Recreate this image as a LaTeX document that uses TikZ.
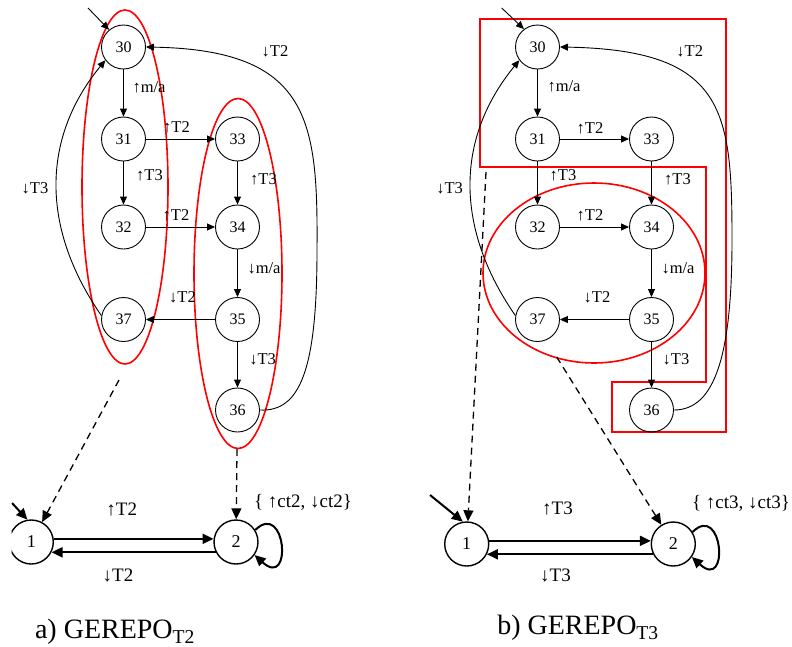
\documentclass[tikz,border=0pt]{standalone}
\usepackage{fontspec}
\setmainfont{Liberation Serif}
\usetikzlibrary{arrows.meta}
\begin{document}
\begin{tikzpicture}[x=1pt,y=-1pt,
  st/.style={circle,draw,line width=0.9pt,minimum size=44pt,inner sep=0pt,font=\fontsize{16}{18}\selectfont},
  bst/.style={circle,draw,line width=1.4pt,minimum size=44pt,inner sep=0pt,font=\fontsize{18}{20}\selectfont},
  tr/.style={line width=0.9pt,-{Triangle[length=8pt,width=7pt]}},
  btr/.style={line width=2pt,-{Triangle[length=11pt,width=10pt]}},
  dtr/.style={line width=1.3pt,dash pattern=on 7pt off 5pt,-{Triangle[length=11pt,width=10pt]}},
  lab/.style={font=\fontsize{16.5}{18}\selectfont,inner sep=0pt},
  blab/.style={font=\fontsize{19}{21}\selectfont,inner sep=0pt},
  grp/.style={draw=red,line width=1.6pt},
  capt/.style={font=\fontsize{28}{30}\selectfont,inner sep=0pt}]
\useasboundingbox (0,0) rectangle (792,646);
\clip (11.5,0) rectangle (792,646);

% ---------- left diagram ----------
\draw[grp] (125,187) ellipse [x radius=43pt, y radius=177pt];
\draw[grp] (238,273.5) ellipse [x radius=44pt, y radius=175pt];

\node[st] (l30) at (123.5,47) {30};
\node[st] (l31) at (123.5,139) {31};
\node[st] (l33) at (237.5,139) {33};
\node[st] (l32) at (123.5,227) {32};
\node[st] (l34) at (237.5,227) {34};
\node[st] (l37) at (123.5,319.5) {37};
\node[st] (l35) at (237.5,319.5) {35};
\node[st] (l36) at (237.5,410) {36};

\coordinate (il30) at (88,8);
\draw[tr] (il30) -- (l30.130);
\draw[tr] (l30) -- (l31);
\draw[tr] (l31) -- (l33);
\draw[tr] (l31) -- (l32);
\draw[tr] (l33) -- (l34);
\draw[tr] (l32) -- (l34);
\draw[tr] (l34) -- (l35);
\draw[tr] (l35) -- (l37);
\draw[tr] (l35) -- (l36);
\draw[tr] (l37.170) .. controls (42,230) and (40,140) .. (l30.216);
\draw[tr] (l36.east) .. controls (300,412) and (317,370) .. (317,250) .. controls (318,120) and (310,50) .. (l30.east);

\node[lab] (la1) at (149,87) {↑m/a};
\node[lab] (la2) at (176.5,127.5) {↑T2};
\node[lab] (la3) at (149.5,175) {↑T3};
\node[lab] (la4) at (263.5,179) {↑T3};
\node[lab] (la5) at (176,215.5) {↑T2};
\node[lab] (la6) at (275,51.5) {↓T2};
\node[lab] (la7) at (35,188) {↓T3};
\node[lab] (la8) at (264,268) {↓m/a};
\node[lab] (la9) at (182.5,297.5) {↓T2};
\node[lab] (la10) at (262.7,359.7) {↓T3};

\node[bst] (lb1) at (31.3,542) {1};
\node[bst] (lb2) at (236,542) {2};
\coordinate (ilb1) at (12,503);
\draw[btr] (ilb1) -- (lb1.100);
\draw[btr] (lb1.8) -- (lb2.172);
\draw[btr] (lb2.207) -- (lb1.-27);
\draw[btr] (lb2.32) .. controls (286,500) and (293,590) .. (lb2.-35);
\coordinate (dl1) at (119,380);
\coordinate (dl2) at (237,449);
\draw[dtr] (dl1) -- (lb1);
\draw[dtr] (dl2) -- (lb2);
\node[blab] (lb3) at (121.7,509.5) {↑T2};
\node[blab] (lb4) at (118,575.7) {↓T2};
\node[blab] (lb5) at (303,502.5) {\{ ↑ct2, ↓ct2\}};
\node[capt] (capa) at (115,632) {a) GEREPO\textsubscript{T2}};

% ---------- right diagram ----------
\draw[grp] (480,19) -- (726,19) -- (726,432) -- (612,432) -- (612,382) -- (706,382) -- (706,167) -- (480,167) -- cycle;
\draw[grp] (594,273) ellipse [x radius=111pt, y radius=90pt];

\node[st] (r30) at (537.5,47) {30};
\node[st] (r31) at (537.5,139) {31};
\node[st] (r33) at (651.5,139) {33};
\node[st] (r32) at (537.5,227) {32};
\node[st] (r34) at (651.5,227) {34};
\node[st] (r37) at (537.5,319.5) {37};
\node[st] (r35) at (651.5,319.5) {35};
\node[st] (r36) at (651.5,410) {36};

\coordinate (ir30) at (501.7,8);
\draw[tr] (ir30) -- (r30.127);
\draw[tr] (r30) -- (r31);
\draw[tr] (r31) -- (r33);
\draw[tr] (r31) -- (r32);
\draw[tr] (r33) -- (r34);
\draw[tr] (r32) -- (r34);
\draw[tr] (r34) -- (r35);
\draw[tr] (r35) -- (r37);
\draw[tr] (r35) -- (r36);
\draw[tr] (r37.170) .. controls (456,230) and (454,140) .. (r30.216);
\draw[tr] (r36.east) .. controls (715,410) and (732,355) .. (732,240) .. controls (732,110) and (725,50) .. (r30.east);

\node[lab] (ra1) at (564,86) {↑m/a};
\node[lab] (ra2) at (590,128) {↑T2};
\node[lab] (ra3) at (563,175) {↑T3};
\node[lab] (ra4) at (677.5,179) {↑T3};
\node[lab] (ra5) at (590,215.5) {↑T2};
\node[lab] (ra6) at (689.7,51.5) {↓T2};
\node[lab] (ra7) at (449.7,188) {↓T3};
\node[lab] (ra8) at (678,268) {↓m/a};
\node[lab] (ra9) at (597,297.5) {↓T2};
\node[lab] (ra10) at (676,359.7) {↓T3};

\node[bst] (rb1) at (466.7,544) {1};
\node[bst] (rb2) at (673.3,544) {2};
\coordinate (irb1) at (430,495);
\draw[btr] (irb1) -- (rb1.100);
\draw[btr] (rb1.8) -- (rb2.172);
\draw[btr] (rb2.207) -- (rb1.-27);
\draw[btr] (rb2.32) .. controls (723,502) and (730,592) .. (rb2.-35);
\coordinate (dr1) at (486,172);
\coordinate (dr2) at (556.7,357);
\draw[dtr] (dr1) -- (rb1);
\draw[dtr] (dr2) -- (rb2);
\node[blab] (rb3) at (557.5,508.7) {↑T3};
\node[blab] (rb4) at (555.5,575) {↓T3};
\node[blab] (rb5) at (741,503) {\{ ↑ct3, ↓ct3\}};
\node[capt] (capb) at (578,628) {b) GEREPO\textsubscript{T3}};
\end{tikzpicture}
\end{document}
